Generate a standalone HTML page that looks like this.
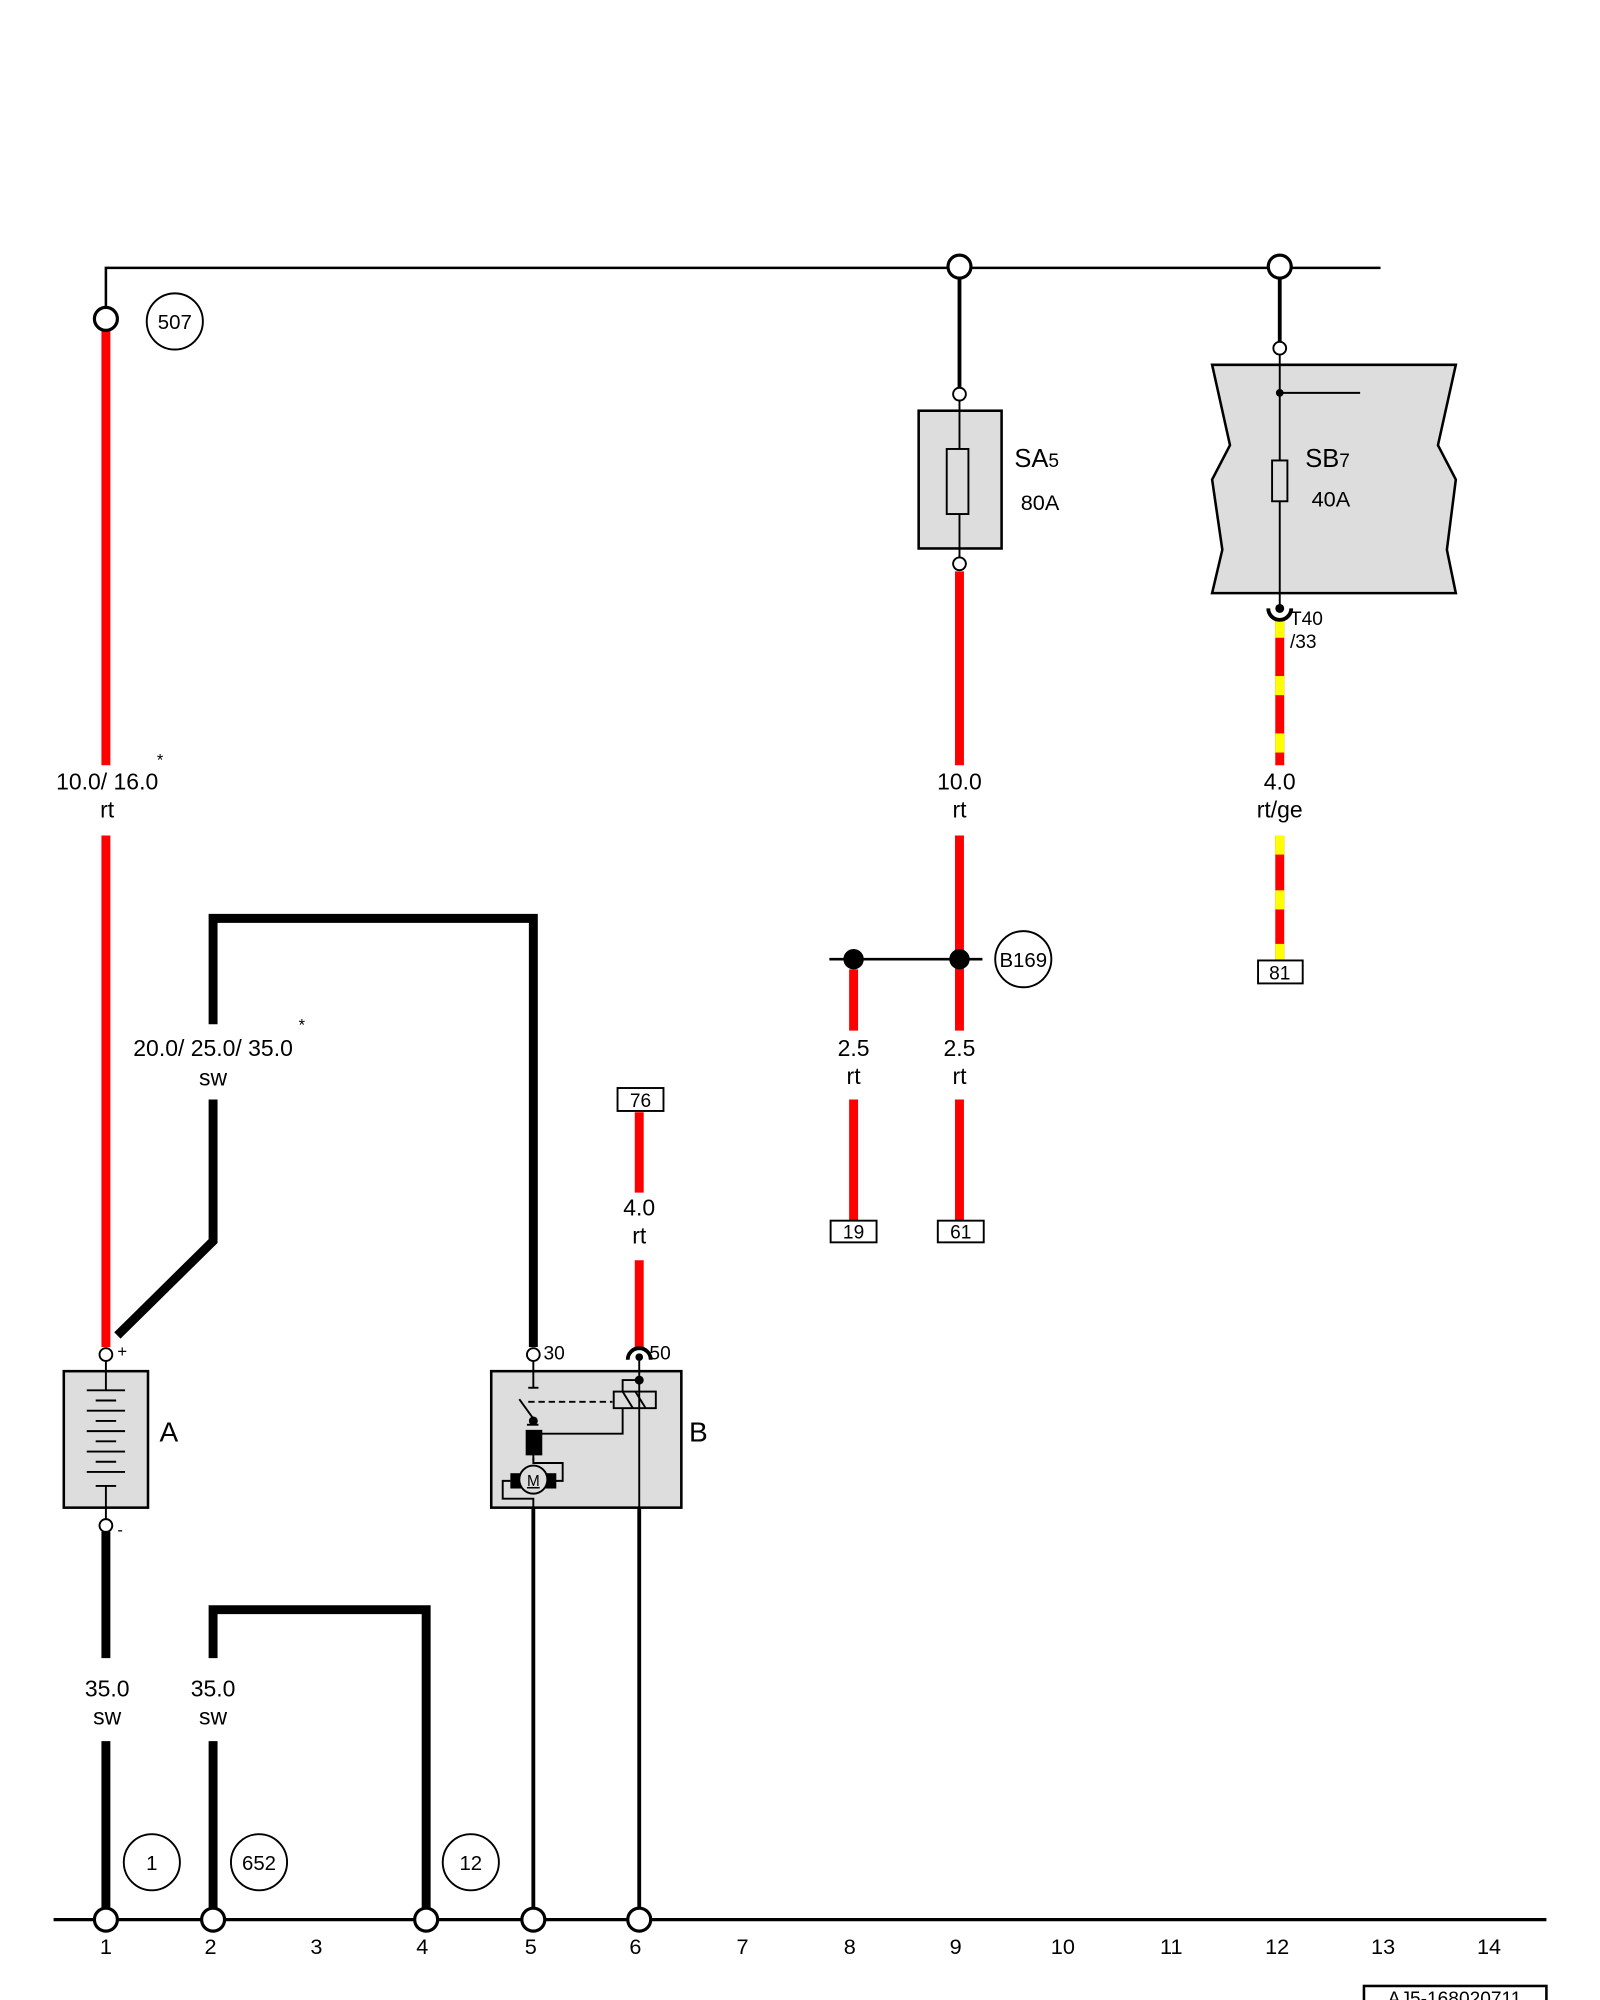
<!DOCTYPE html>
<html><head><meta charset="utf-8"><style>
html,body{margin:0;padding:0;background:#fff;}
svg{display:block;}
text{font-family:"Liberation Sans",sans-serif;fill:#000;}
</style></head><body>
<svg width="1600" height="2000" viewBox="0 0 1254 1568" preserveAspectRatio="none" xmlns="http://www.w3.org/2000/svg">
<g stroke="#000" fill="none">
<!-- top bus -->
<polyline points="83,250 83,210 1082,210" stroke-width="2"/>
<!-- bottom bus -->
<line x1="42" y1="1505" x2="1212" y2="1505" stroke-width="2.5"/>
</g>
<!-- red wire 1 -->
<g stroke="#f00" stroke-width="7">
<line x1="83" y1="259" x2="83" y2="600"/>
<line x1="83" y1="655" x2="83" y2="1056"/>
<line x1="752" y1="448" x2="752" y2="600"/>
<line x1="752" y1="655" x2="752" y2="808"/>
<line x1="752" y1="862" x2="752" y2="957"/>
<line x1="669" y1="760" x2="669" y2="808"/>
<line x1="669" y1="862" x2="669" y2="957"/>
<line x1="501" y1="872" x2="501" y2="935"/>
<line x1="501" y1="988" x2="501" y2="1058"/>
<line x1="1003" y1="485" x2="1003" y2="600"/>
<line x1="1003" y1="655" x2="1003" y2="752"/>
</g>
<!-- yellow stripes -->
<g stroke="#ff0" stroke-width="7">
<line x1="1003" y1="485" x2="1003" y2="500"/>
<line x1="1003" y1="530" x2="1003" y2="545"/>
<line x1="1003" y1="575" x2="1003" y2="590"/>
<line x1="1003" y1="655" x2="1003" y2="670"/>
<line x1="1003" y1="698" x2="1003" y2="713"/>
<line x1="1003" y1="740" x2="1003" y2="752"/>
</g>
<!-- thick black wires -->
<g stroke="#000" stroke-width="7" fill="none">
<polyline points="92,1047 167,973 167,862"/>
<polyline points="167,803 167,720 418,720 418,1056"/>
<line x1="83" y1="1201" x2="83" y2="1300"/>
<line x1="83" y1="1365" x2="83" y2="1497"/>
<polyline points="167,1497 167,1365"/>
<polyline points="167,1300 167,1262 334,1262 334,1497"/>
</g>
<g stroke="#000" stroke-width="3" fill="none">
<line x1="418" y1="1182" x2="418" y2="1497"/>
<line x1="501" y1="1182" x2="501" y2="1497"/>
<line x1="752" y1="218" x2="752" y2="305"/>
<line x1="1003" y1="218" x2="1003" y2="268"/>
<line x1="650" y1="752" x2="770" y2="752" stroke-width="2"/>
</g>
<!-- SA5 -->
<rect x="720" y="322" width="65" height="108" fill="#ddd" stroke="#000" stroke-width="2"/>
<line x1="752" y1="314" x2="752" y2="437" stroke="#000" stroke-width="1.5"/>
<rect x="742" y="352" width="17" height="51" fill="#ddd" stroke="#000" stroke-width="1.5"/>
<text x="795" y="366" font-size="20">SA<tspan font-size="15">5</tspan></text>
<text x="800" y="400" font-size="17">80A</text>
<!-- SB7 -->
<polygon points="950,286 1141,286 1127,349 1141,376 1134,431 1141,465 950,465 958,431 950,376 964,349" fill="#ddd" stroke="#000" stroke-width="2"/>
<line x1="1003" y1="278" x2="1003" y2="478" stroke="#000" stroke-width="1.5"/>
<line x1="1003" y1="308" x2="1066" y2="308" stroke="#000" stroke-width="1.5"/>
<circle cx="1003" cy="308" r="3" fill="#000"/>
<rect x="997" y="361" width="12" height="32" fill="#ddd" stroke="#000" stroke-width="1.5"/>
<text x="1023" y="366" font-size="20">SB<tspan font-size="15">7</tspan></text>
<text x="1028" y="397" font-size="17">40A</text>
<path d="M994,477 A9,9 0 0 0 1012,477" fill="none" stroke="#000" stroke-width="3"/>
<circle cx="1003" cy="477" r="3.5" fill="#000"/>
<text x="1011" y="490" font-size="15">T40</text>
<text x="1011" y="508" font-size="15">/33</text>
<!-- battery A -->
<rect x="50" y="1075" width="66" height="107" fill="#ddd" stroke="#000" stroke-width="2"/>
<g stroke="#000" stroke-width="1.5">
<line x1="83" y1="1067" x2="83" y2="1090"/>
<line x1="83" y1="1165" x2="83" y2="1191"/>
<line x1="68" y1="1090" x2="98" y2="1090"/>
<line x1="75" y1="1098" x2="91" y2="1098"/>
<line x1="68" y1="1106" x2="98" y2="1106"/>
<line x1="75" y1="1114" x2="91" y2="1114"/>
<line x1="68" y1="1122" x2="98" y2="1122"/>
<line x1="75" y1="1130" x2="91" y2="1130"/>
<line x1="68" y1="1138" x2="98" y2="1138"/>
<line x1="75" y1="1146" x2="91" y2="1146"/>
<line x1="68" y1="1154" x2="98" y2="1154"/>
<line x1="75" y1="1165" x2="91" y2="1165"/>
</g>
<text x="125" y="1130" font-size="22">A</text>
<text x="92" y="1064" font-size="13">+</text>
<text x="92" y="1204" font-size="13">-</text>
<!-- starter B -->
<rect x="385" y="1075" width="149" height="107" fill="#ddd" stroke="#000" stroke-width="2"/>
<g stroke="#000" stroke-width="1.5" fill="none">
<line x1="418" y1="1067" x2="418" y2="1088"/>
<line x1="414" y1="1088" x2="422" y2="1088"/>
<line x1="407" y1="1097" x2="420" y2="1115"/>
<line x1="413" y1="1117" x2="422" y2="1117"/>
<line x1="414" y1="1099" x2="480" y2="1099" stroke-dasharray="5,3"/>
<rect x="481" y="1091" width="33" height="13"/>
<line x1="488" y1="1091" x2="496" y2="1104"/><line x1="498" y1="1091" x2="506" y2="1104"/>
<polyline points="418,1122 418,1124 488,1124 488,1104"/>
<polyline points="488,1091 488,1082 501,1082"/>
<line x1="501" y1="1067" x2="501" y2="1182"/>
<line x1="418" y1="1122" x2="418" y2="1145"/>
<polyline points="418,1143 418,1147 441,1147 441,1161 428,1161"/>
<polyline points="400,1161 394,1161 394,1175 418,1175 418,1182"/>
</g>
<circle cx="418" cy="1114" r="3.5" fill="#000"/>
<circle cx="501" cy="1082" r="3.5" fill="#000"/>
<rect x="412" y="1121" width="13" height="20" fill="#000"/>
<rect x="400" y="1155" width="9" height="12" fill="#000"/>
<rect x="427" y="1155" width="9" height="12" fill="#000"/>
<circle cx="418" cy="1160" r="11" fill="#ddd" stroke="#000" stroke-width="1.5"/>
<text x="418" y="1165" font-size="12" text-anchor="middle" text-decoration="underline">M</text>
<text x="540" y="1130" font-size="22">B</text>
<text x="426" y="1066" font-size="15">30</text>
<path d="M492,1066 A9,9 0 0 1 510,1066" fill="none" stroke="#000" stroke-width="3"/>
<circle cx="501" cy="1064" r="3" fill="#000"/>
<text x="509" y="1066" font-size="15">50</text>
<!-- small open circles -->
<g fill="#fff" stroke="#000" stroke-width="1.5">
<circle cx="83" cy="1062" r="5"/><circle cx="83" cy="1196" r="5"/>
<circle cx="418" cy="1062" r="5"/>
<circle cx="752" cy="309" r="5"/><circle cx="752" cy="442" r="5"/>
<circle cx="1003" cy="273" r="5"/>
</g>
<!-- large open circles -->
<g fill="#fff" stroke="#000" stroke-width="2.5">
<circle cx="83" cy="250" r="9"/><circle cx="752" cy="209" r="9"/><circle cx="1003" cy="209" r="9"/>
<circle cx="83" cy="1505" r="9"/><circle cx="167" cy="1505" r="9"/><circle cx="334" cy="1505" r="9"/><circle cx="418" cy="1505" r="9"/><circle cx="501" cy="1505" r="9"/>
</g>
<circle cx="669" cy="752" r="8" fill="#000"/><circle cx="752" cy="752" r="8" fill="#000"/>
<!-- reference circles -->
<g fill="#fff" stroke="#000" stroke-width="1.5">
<circle cx="137" cy="252" r="22"/><circle cx="802" cy="752" r="22"/>
<circle cx="119" cy="1460" r="22"/><circle cx="203" cy="1460" r="22"/><circle cx="369" cy="1460" r="22"/>
</g>
<g font-size="16" text-anchor="middle">
<text x="137" y="258">507</text><text x="802" y="758">B169</text>
<text x="119" y="1466">1</text><text x="203" y="1466">652</text><text x="369" y="1466">12</text>
</g>
<!-- connector boxes -->
<g fill="#fff" stroke="#000" stroke-width="1.5">
<rect x="484" y="853" width="36" height="18"/>
<rect x="651" y="957" width="36" height="17"/>
<rect x="735" y="957" width="36" height="17"/>
<rect x="986" y="753" width="35" height="18"/>
</g>
<g font-size="15" text-anchor="middle">
<text x="502" y="868">76</text><text x="669" y="971">19</text><text x="753" y="971">61</text><text x="1003" y="768">81</text>
</g>
<!-- wire labels -->
<g font-size="18" text-anchor="middle">
<text x="84" y="619">10.0/ 16.0</text><text x="84" y="641">rt</text>
<text x="752" y="619">10.0</text><text x="752" y="641">rt</text>
<text x="1003" y="619">4.0</text><text x="1003" y="641">rt/ge</text>
<text x="167" y="828">20.0/ 25.0/ 35.0</text><text x="167" y="851">sw</text>
<text x="669" y="828">2.5</text><text x="669" y="850">rt</text>
<text x="752" y="828">2.5</text><text x="752" y="850">rt</text>
<text x="501" y="953">4.0</text><text x="501" y="975">rt</text>
<text x="84" y="1330">35.0</text><text x="84" y="1352">sw</text>
<text x="167" y="1330">35.0</text><text x="167" y="1352">sw</text>
</g>
<text x="123" y="600" font-size="13">*</text>
<text x="234" y="808" font-size="13">*</text>
<g font-size="17" text-anchor="middle">
<text x="83" y="1532">1</text><text x="165" y="1532">2</text><text x="248" y="1532">3</text><text x="331" y="1532">4</text><text x="416" y="1532">5</text><text x="498" y="1532">6</text><text x="582" y="1532">7</text><text x="666" y="1532">8</text><text x="749" y="1532">9</text><text x="833" y="1532">10</text><text x="918" y="1532">11</text><text x="1001" y="1532">12</text><text x="1084" y="1532">13</text><text x="1167" y="1532">14</text>
</g>
<rect x="1069" y="1557" width="143" height="20" fill="#fff" stroke="#000" stroke-width="2"/>
<text x="1140" y="1572" font-size="15" text-anchor="middle">AJ5-168020711</text>
</svg>
</body></html>
